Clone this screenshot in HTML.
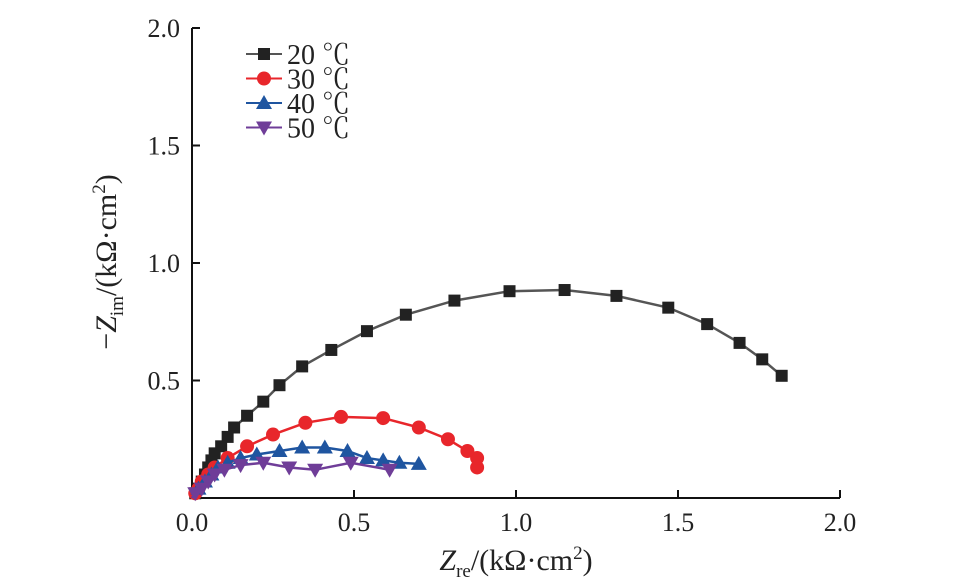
<!DOCTYPE html>
<html><head><meta charset="utf-8"><style>
body{margin:0;background:#fff}
svg{display:block;font-family:"Liberation Serif","Noto Serif CJK SC",serif}
</style></head><body>
<svg id="c" width="958" height="585" viewBox="0 0 958 585"></svg>
<script>
const xTicks=[0,0.5,1.0,1.5,2.0];
const yTicks=[0.5,1.0,1.5,2.0];
const seriesNames=["20 ℃","30 ℃","40 ℃","50 ℃"];
const s20x=[1.82,1.76,1.69,1.59,1.47,1.31,1.15,0.98,0.81,0.66,0.54,0.43,0.34,0.27,0.22,0.17,0.13,0.11,0.09,0.07,0.06,0.05,0.04,0.03,0.02,0.01];
const s20y=[0.52,0.59,0.66,0.74,0.81,0.86,0.885,0.88,0.84,0.78,0.71,0.63,0.56,0.48,0.41,0.35,0.30,0.26,0.22,0.19,0.16,0.13,0.10,0.07,0.04,0.02];
const s30x=[0.88,0.88,0.85,0.79,0.70,0.59,0.46,0.35,0.25,0.17,0.11,0.07,0.05,0.03,0.02,0.01];
const s30y=[0.13,0.17,0.20,0.25,0.30,0.34,0.345,0.32,0.27,0.22,0.17,0.13,0.10,0.07,0.04,0.02];
const s40x=[0.70,0.64,0.59,0.54,0.48,0.41,0.34,0.27,0.20,0.15,0.11,0.08,0.06,0.04,0.02];
const s40y=[0.145,0.15,0.16,0.17,0.20,0.215,0.215,0.20,0.185,0.17,0.15,0.13,0.10,0.07,0.04];
const s50x=[0.61,0.49,0.38,0.30,0.22,0.15,0.10,0.07,0.05,0.03,0.01];
const s50y=[0.12,0.15,0.12,0.13,0.15,0.14,0.12,0.10,0.07,0.04,0.02];
const X=v=>192+v*324, Y=v=>498-v*235;
const svg=document.getElementById('c');const NS='http://www.w3.org/2000/svg';
function mk(t,a,p){const e=document.createElementNS(NS,t);for(const k in a)e.setAttribute(k,a[k]);(p||svg).appendChild(e);return e;}
let e;
e=mk('line',{x1:192,y1:498,x2:840,y2:498,stroke:'#111','stroke-width':2});


e=mk('line',{x1:192,y1:498,x2:192,y2:28,stroke:'#111','stroke-width':2});


xTicks.forEach(v=>{
 e=mk('line',{x1:X(v),y1:498,x2:X(v),y2:490,stroke:'#111','stroke-width':2});
 
 
 e=mk('text',{x:X(v),y:531,'text-anchor':'middle','font-size':26,fill:'#222'});e.textContent=v.toFixed(1);
 
 
});
yTicks.forEach(v=>{
 e=mk('line',{x1:192,y1:Y(v),x2:200,y2:Y(v),stroke:'#111','stroke-width':2});
 
 
 e=mk('text',{x:180,y:Y(v)+9,'text-anchor':'end','font-size':26,fill:'#222'});e.textContent=v.toFixed(1);
 
 
});
e=mk('text',{x:516,y:570,'text-anchor':'middle','font-size':30,fill:'#222'});
e.innerHTML='<tspan font-style="italic">Z</tspan><tspan font-size="19" dy="7">re</tspan><tspan dy="-7">/(kΩ·cm</tspan><tspan font-size="19" dy="-11">2</tspan><tspan dy="11">)</tspan>';


e=mk('text',{x:0,y:0,'text-anchor':'middle','font-size':30,fill:'#222',transform:'translate(116,262) rotate(-90)'});
e.innerHTML='−<tspan font-style="italic">Z</tspan><tspan font-size="19" dy="7">im</tspan><tspan dy="-7">/(kΩ·cm</tspan><tspan font-size="19" dy="-11">2</tspan><tspan dy="11">)</tspan>';


const colors=['#222','#e8262b','#1f55a0','#6f3d98'];
const shapes=['sq','ci','tu','td'];
const xs=[s20x,s30x,s40x,s50x], ys=[s20y,s30y,s40y,s50y];
const lineCols=['#555','#e8262b','#1f55a0','#6f3d98'];
function marker(sh,cx,cy,col,g){
 if(sh==='sq')return mk('rect',{x:cx-6,y:cy-6,width:12,height:12,fill:col},g);
 if(sh==='ci')return mk('circle',{cx,cy,r:7,fill:col},g);
 if(sh==='tu')return mk('polygon',{points:`${cx},${cy-8} ${cx-8},${cy+6} ${cx+8},${cy+6}`,fill:col},g);
 return mk('polygon',{points:`${cx},${cy+8} ${cx-8},${cy-6} ${cx+8},${cy-6}`,fill:col},g);
}
for(let i=0;i<4;i++){
 const g=mk('g',{});
 
 
 const pts=xs[i].map((x,j)=>X(x)+','+Y(ys[i][j])).join(' ');
 e=mk('polyline',{points:pts+' '+X(0)+','+Y(0),fill:'none',stroke:lineCols[i],'stroke-width':2.5},g);
 
 
 xs[i].forEach((x,j)=>{
  e=marker(shapes[i],X(x),Y(ys[i][j]),colors[i],g);
  
  
 });
 const ly=54+i*24.5;
 const lg=mk('g',{});
 
 
 mk('line',{x1:246,y1:ly,x2:282,y2:ly,stroke:lineCols[i],'stroke-width':2},lg);
 marker(shapes[i],264,ly,colors[i],lg);
 const t=mk('text',{x:287,y:ly+10,'font-size':28,fill:'#222'},lg);t.textContent=seriesNames[i];
}
</script>
</body></html>
